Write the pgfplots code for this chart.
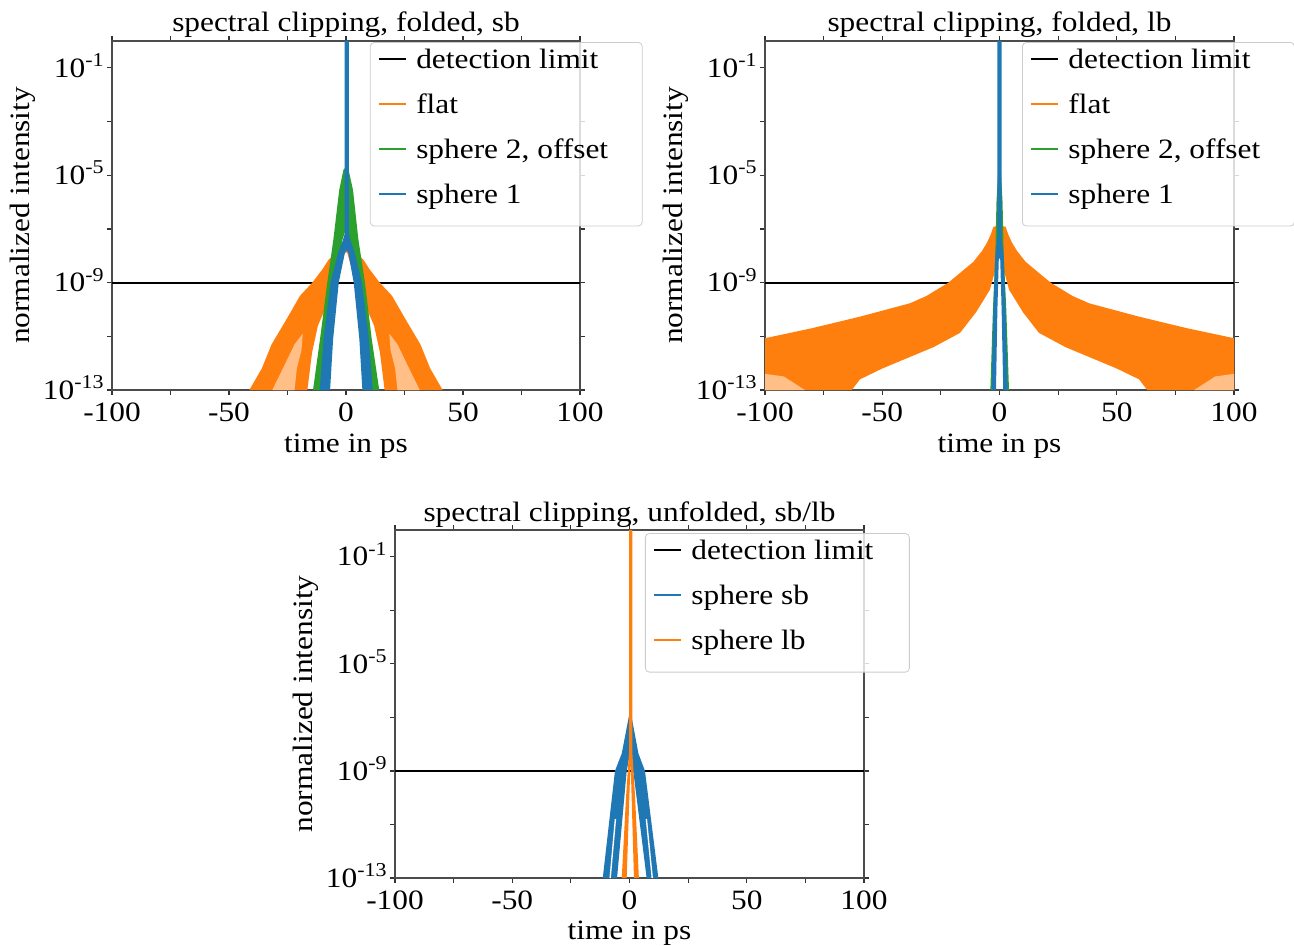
\documentclass[border=0pt]{standalone}
\usepackage{fontspec}
\setmainfont{Liberation Serif}[FakeStretch=1.12]
\usepackage{pgfplots}
\pgfplotsset{compat=1.18}
\definecolor{mblue}{HTML}{1F77B4}
\definecolor{morange}{HTML}{FF7F0E}
\definecolor{mgreen}{HTML}{2CA02C}
\definecolor{mpeach}{HTML}{FFBF86}
\pgfplotsset{
  every axis/.append style={
    scale only axis, width=234pt, height=174.5pt,
    xmin=-100, xmax=100, ymode=log, ymin=1e-13, ymax=1,
    xtick={-100,-50,0,50,100}, xticklabels={-100,-50,0,50,100},
    minor xtick={-75,-25,25,75},
    ytick={1e-13,1e-9,1e-5,1e-1},
    yticklabels={10\textsuperscript{-13},10\textsuperscript{-9},10\textsuperscript{-5},10\textsuperscript{-1}},
    minor ytick={1e-11,1e-7,1e-3},
    tick align=outside, major tick length=2.5pt, minor tick length=2.5pt,
    axis line style={black!70, line width=0.7pt},
    xticklabel style={anchor=base, yshift=-13.3pt},
    yticklabel style={anchor=base east, inner sep=0pt, xshift=-1pt, yshift=-4.6pt},
    xlabel={time in ps}, ylabel={normalized intensity},
    legend cell align=left,
    legend style={anchor=north west, draw=black!20, fill=white, fill opacity=0.8,
      draw opacity=1, text opacity=1, rounded corners=2pt, inner xsep=4pt, inner ysep=1pt,
      row sep=0.2pt, nodes={inner sep=0pt, text height=12pt, text depth=10.3pt},
      /tikz/every odd column/.append style={column sep=4.5pt}},
  },
  every tick/.style={black!80, line width=0.6pt},
  every axis title/.style={at={(0.5,1.0258)}, anchor=base},
  every axis x label/.style={at={(0.5,-0.178)}, anchor=base},
  every axis y label/.style={at={(-0.176,0.5)}, rotate=90, anchor=base},
  legend image code/.code={\draw[#1] (0pt,4pt) -- (13.5pt,4pt);},
  poly/.style={draw=none, forget plot},
}
\begin{document}
\begin{tikzpicture}[font=\fontsize{14pt}{16.8pt}\selectfont]
\useasboundingbox (0,0) rectangle (647pt,-473pt);
% ---------------- top left
\begin{axis}[at={(56pt,-195pt)}, anchor=south west,
  title={spectral clipping, folded, sb},
  legend style={at={(0.551,0.997)}}]
\addlegendimage{black, line width=1pt}\addlegendentry{\makebox[109pt][l]{detection limit}}
\addlegendimage{morange, line width=1pt}\addlegendentry{\makebox[109pt][l]{flat}}
\addlegendimage{mgreen, line width=1pt}\addlegendentry{\makebox[109pt][l]{sphere 2, offset}}
\addlegendimage{mblue, line width=1pt}\addlegendentry{\makebox[109pt][l]{sphere 1}}
\addplot[black, line width=1pt, forget plot] coordinates {(-100,1e-9) (100,1e-9)};
\addplot[poly, fill=morange] coordinates {
 (-41.3,1e-13) (-36,6.3e-13) (-31.8,5e-12) (-25,5e-11) (-19.7,3.2e-10) (-14.4,1e-9)
 (-10,3.2e-9) (-7.5,7e-9) (-4,1.4e-8) (-1.5,2.1e-8) (0,2e-8) (1.5,2.1e-8) (4,1.4e-8)
 (7.5,7e-9) (10,3.2e-9) (14.4,1e-9) (19.7,3.2e-10) (25,5e-11) (31.8,5e-12) (36,6.3e-13)
 (41.3,1e-13) (16.5,1e-13) (14.5,2.5e-12) (12,2.5e-11) (8,1.6e-10) (4,1e-9) (2.5,3.2e-9)
 (0.5,1.3e-8) (-0.5,1.3e-8) (-2.5,3.2e-9) (-4,1e-9) (-8,1.6e-10) (-12,2.5e-11)
 (-14.5,2.5e-12) (-16.5,1e-13)} -- cycle;
\addplot[poly, fill=mpeach] coordinates {
 (-31.5,1e-13) (-27,6.3e-13) (-22,5e-12) (-18.5,1.26e-11) (-19,3.2e-12) (-21,6.3e-13) (-22,1e-13)} -- cycle;
\addplot[poly, fill=mpeach] coordinates {
 (31.5,1e-13) (27,6.3e-13) (22,5e-12) (18.5,1.26e-11) (19,3.2e-12) (21,6.3e-13) (22,1e-13)} -- cycle;
\addplot[poly, fill=mgreen] coordinates {
 (-14.1,1e-13) (-11.1,7.9e-12) (-8,1e-9) (-5.4,4e-8) (-2.9,2.8e-6) (-1.1,1.6e-5) (0,2e-5)
 (1.1,1.6e-5) (3,2.8e-6) (5.3,4e-8) (8.1,1e-9) (11,7.9e-12) (14.2,1e-13) (8.8,1e-13)
 (7,7.9e-12) (4.5,1e-9) (1.5,4e-8) (0,1e-7) (-1.5,4e-8) (-4.5,1e-9) (-7,7.9e-12) (-8.8,1e-13)} -- cycle;
\addplot[poly, fill=mblue] coordinates {
 (-11.2,1e-13) (-9.6,7.9e-12) (-6.6,1e-9) (-3.4,1.26e-8) (-1.6,3.2e-8) (-0.6,6.3e-8)
 (-0.6,1) (1.2,1) (1.2,6.3e-8) (2.2,3.2e-8) (3.8,1.26e-8) (6.8,1e-9) (9.8,7.9e-12) (11.4,1e-13)
 (7,1e-13) (5.7,7.9e-12) (3.3,1e-9) (1,1.26e-8) (0.3,1.6e-8) (-0.5,1.26e-8) (-3.1,1e-9)
 (-5.5,7.9e-12) (-6.8,1e-13)} -- cycle;
\end{axis}
% ---------------- top right
\begin{axis}[at={(382.5pt,-195pt)}, anchor=south west, width=234.5pt,
  title={spectral clipping, folded, lb},
  legend style={at={(0.548,0.997)}}]
\addlegendimage{black, line width=1pt}\addlegendentry{\makebox[109pt][l]{detection limit}}
\addlegendimage{morange, line width=1pt}\addlegendentry{\makebox[109pt][l]{flat}}
\addlegendimage{mgreen, line width=1pt}\addlegendentry{\makebox[109pt][l]{sphere 2, offset}}
\addlegendimage{mblue, line width=1pt}\addlegendentry{\makebox[109pt][l]{sphere 1}}
\addplot[black, line width=1pt, forget plot] coordinates {(-100,1e-9) (100,1e-9)};
\addplot[poly, fill=morange] coordinates {
 (-100,1e-13) (-100,8.5e-12) (-80,2e-11) (-59.5,5.4e-11) (-38.2,1.7e-10) (-31.1,3.2e-10)
 (-21.8,1e-9) (-16.8,2.3e-9) (-11.1,6e-9) (-7.5,1.5e-8) (-5.4,3e-8) (-3.8,6e-8) (-2.6,1.2e-7)
 (-1.5,1.26e-7) (0,5e-8) (1.5,1.26e-7) (2.6,1.2e-7) (3.8,6e-8) (5.4,3e-8) (7.5,1.5e-8)
 (11.1,6e-9) (16.8,2.3e-9) (21.8,1e-9) (31.1,3.2e-10) (38.2,1.7e-10) (59.5,5.4e-11)
 (80,2e-11) (100,8.5e-12)
 (100,1e-13) (63,1e-13) (59.5,2.5e-13) (50,6.3e-13) (38.2,1.7e-12) (28,4e-12) (16.8,1.35e-11)
 (10,7.9e-11) (4.1,5.4e-10) (2,2.5e-9) (0.5,1e-8) (-0.5,1e-8) (-2,2.5e-9) (-4.1,5.4e-10)
 (-10,7.9e-11) (-16.8,1.35e-11) (-28,4e-12) (-38.2,1.7e-12) (-50,6.3e-13) (-59.5,2.5e-13)
 (-63,1e-13)} -- cycle;
\addplot[poly, fill=mpeach] coordinates {(-100,1e-13) (-100,4e-13) (-92,3.2e-13) (-83,1e-13)} -- cycle;
\addplot[poly, fill=mpeach] coordinates {(100,1e-13) (100,4e-13) (92,3.2e-13) (83,1e-13)} -- cycle;
\addplot[poly, fill=mgreen] coordinates {
 (-3.9,1e-13) (-2.8,1e-10) (-1.8,1e-8) (-1.3,1e-6) (-0.6,1.26e-5) (0,1.6e-5) (0.6,1.26e-5)
 (1.3,1e-6) (1.8,1e-8) (2.9,1e-10) (4.05,1e-13) (2.5,1e-13) (1.5,1e-10) (0.5,1e-8)
 (-0.5,1e-8) (-1.5,1e-10) (-2.4,1e-13)} -- cycle;
\addplot[poly, fill=mblue] coordinates {
 (-3.4,1e-13) (-2.6,1e-10) (-1.8,1e-8) (-0.9,5e-8) (-0.9,1) (0.9,1) (0.9,5e-8) (1.8,1e-8)
 (2.6,1e-10) (3.5,1e-13) (1.6,1e-13) (0.9,1e-10) (0.3,7.9e-9) (-0.3,7.9e-9) (-0.9,1e-10)
 (-1.5,1e-13)} -- cycle;
\end{axis}
% ---------------- bottom
\begin{axis}[at={(197.5pt,-439pt)}, anchor=south west, width=234.5pt, height=174pt,
  title={spectral clipping, unfolded, sb/lb},
  every axis x label/.style={at={(0.5,-0.178)}, anchor=base},
  legend style={at={(0.533,0.991)}}]
\addlegendimage{black, line width=1pt}\addlegendentry{\makebox[105pt][l]{detection limit}}
\addlegendimage{mblue, line width=1pt}\addlegendentry{\makebox[105pt][l]{sphere sb}}
\addlegendimage{morange, line width=1pt}\addlegendentry{\makebox[105pt][l]{sphere lb}}
\addplot[black, line width=1pt, forget plot] coordinates {(-100,1e-9) (100,1e-9)};
\addplot[poly, fill=mblue] coordinates {
 (-11.4,1e-13) (-6.2,1e-9) (-3.3,4.5e-9) (0.3,2e-7) (3.8,4.5e-9) (6.6,1e-9) (12.3,1e-13)
 (7.3,1e-13) (1.6,1e-9) (0.3,5e-9) (-1.2,1e-9) (-5.3,1e-13)} -- cycle;
\addplot[white, line width=0.7pt, forget plot] coordinates {(-8.25,1e-13) (-6,1.6e-11)};
\addplot[white, line width=0.7pt, forget plot] coordinates {(9.7,1e-13) (7.2,1.6e-11)};
\addplot[poly, fill=morange] coordinates {
 (-3.3,1e-13) (-1.5,1e-10) (-0.2,5e-9) (-0.2,1) (1.2,1) (1.2,5e-9) (2.4,1e-10) (4.0,1e-13)
 (1.9,1e-13) (0.45,2.5e-9) (-1.2,1e-13)} -- cycle;
\end{axis}
\end{tikzpicture}
\end{document}
